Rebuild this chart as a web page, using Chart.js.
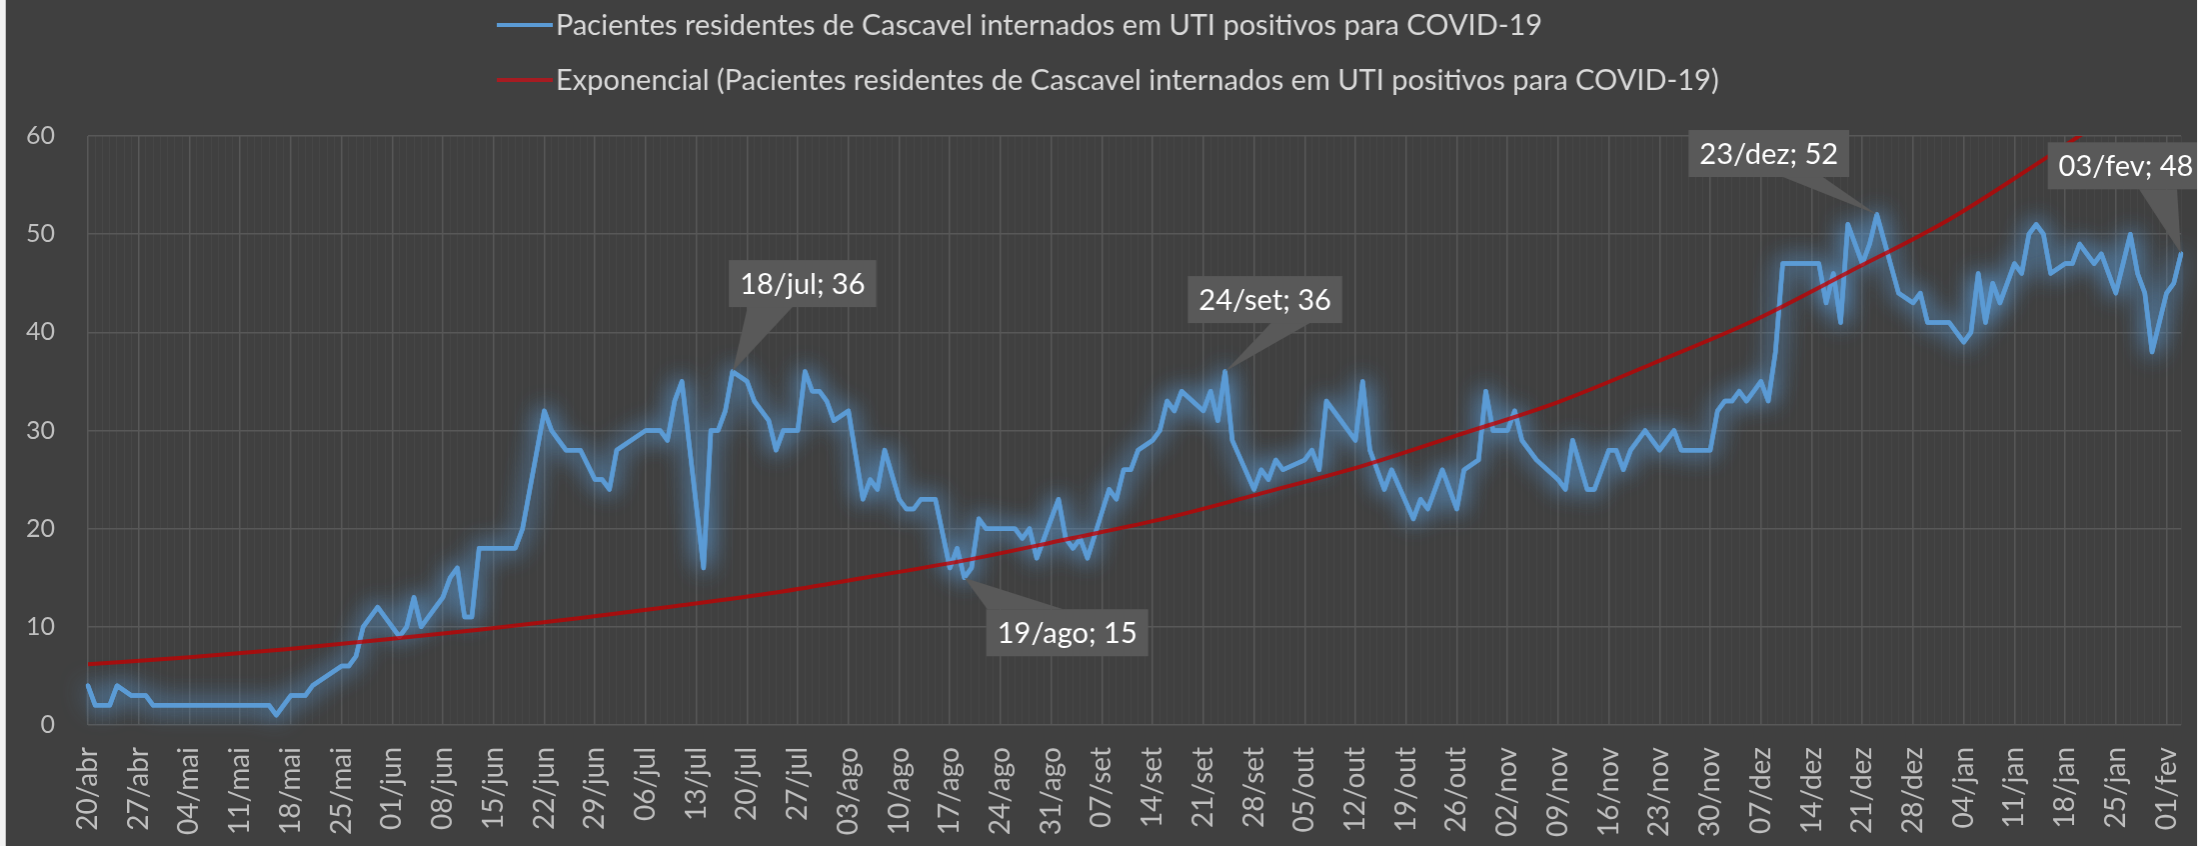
<!DOCTYPE html>
<html>
<head>
    <title>Pacientes UTI COVID-19 Cascavel</title>
    <script src="https://cdn.jsdelivr.net/npm/chart.js"></script>
    <style>
        html, body {
            margin: 0;
            padding: 0;
            background: #f2f2f2;
        }
        .wrap {
            width: 2198px;
            height: 846px;
            padding-left: 5px;
            box-sizing: border-box;
            overflow: hidden;
        }
        #uti {
            display: block;
            background: #404040;
            border-left: 1px solid #c4c4c4;
        }
    </style>
</head>
<body>
<div class="wrap">
    <canvas id="uti" width="2192" height="846"></canvas>
</div>

<script>
// rótulos semanais do eixo X (um a cada 7 dias, a partir de 20/abr)
const weekLabels = [
    '20/abr', '27/abr', '04/mai', '11/mai', '18/mai', '25/mai', '01/jun', '08/jun',
    '15/jun', '22/jun', '29/jun', '06/jul', '13/jul', '20/jul', '27/jul', '03/ago',
    '10/ago', '17/ago', '24/ago', '31/ago', '07/set', '14/set', '21/set', '28/set',
    '05/out', '12/out', '19/out', '26/out', '02/nov', '09/nov', '16/nov', '23/nov',
    '30/nov', '07/dez', '14/dez', '21/dez', '28/dez', '04/jan', '11/jan', '18/jan',
    '25/jan', '01/fev'
];

// pacientes internados em UTI por dia (20/abr .. 03/fev), null = sem registro
const pacientes = [
    4, 2, 2, 2, 4, null, 3,
    3, 3, 2, 2, 2, 2, 2,
    2, 2, 2, 2, 2, 2, 2,
    2, 2, 2, 2, 2, 1, 2,
    3, 3, 3, 4, null, 5, null,
    6, 6, 7, 10, 11, 12, 11,
    10, 9, 10, 13, 10, 11, 12,
    13, 15, 16, 11, 11, 18, 18,
    18, 18, 18, 18, 20, 24, 28,
    32, 30, 29, 28, 28, 28, null,
    25, 25, 24, 28, null, null, null,
    30, 30, 30, 29, 33, 35, null,
    null, 16, 30, 30, 32, 36, null,
    35, 33, 32, 31, 28, 30, 30,
    30, 36, 34, 34, 33, 31, null,
    32, null, 23, 25, 24, 28, null,
    23, 22, 22, 23, 23, 23, null,
    16, 18, 15, 16, 21, 20, 20,
    20, 20, 20, 19, 20, 17, 19,
    21, 23, 19, 18, 19, 17, null,
    null, 24, 23, 26, 26, 28, null,
    29, 30, 33, 32, 34, null, null,
    32, 34, 31, 36, 29, null, null,
    24, 26, 25, 27, 26, null, null,
    27, 28, 26, 33, 32, 31, 30,
    29, 35, 28, 26, 24, 26, null,
    null, 21, 23, 22, 24, 26, 24,
    22, 26, null, 27, 34, 30, 30,
    30, 32, 29, 28, 27, null, null,
    25, 24, 29, null, 24, 24, 26,
    28, 28, 26, 28, 29, 30, 29,
    28, 29, 30, 28, 28, 28, 28,
    28, 32, 33, 33, 34, 33, 34,
    35, 33, 38, 47, 47, 47, 47,
    47, 47, 43, 46, 41, 51, 49,
    47, 49, 52, null, null, 44, null,
    43, 44, 41, 41, 41, 41, 40,
    39, 40, 46, 41, 45, 43, 45,
    47, 46, 50, 51, 50, 46, null,
    47, 47, 49, 48, 47, 48, 46,
    44, 47, 50, 46, 44, 38, null,
    44, 45, 48
];

const trendDays = [0, 14, 27, 41, 54, 68, 81, 95, 108, 122, 135, 149, 162, 176, 189, 203, 216, 230, 243, 257, 270, 284];
const trendValues = [6.2, 6.9, 7.7, 8.7, 9.7, 10.9, 12.1, 13.5, 15.1, 16.9, 18.9, 21.1, 23.6, 26.4, 29.5, 32.9, 36.8, 41.2, 46.1, 51.5, 57.6, 64.4];

// rótulos de dados destacados
const calloutDays = [89, 121, 157, 247, 289];
const calloutTexts = ['18/jul; 36', '19/ago; 15', '24/set; 36', '23/dez; 52', '03/fev; 48'];

const serieNome = 'Pacientes residentes de Cascavel internados em UTI positivos para COVID-19';
const FONT = 'Lato, "Open Sans", sans-serif';

// categorias = dias desde 20/abr
const days = pacientes.map((v, i) => i);
const trendData = days.map(() => null);
trendDays.forEach((d, i) => { trendData[d] = trendValues[i]; });

// posição das caixas em relação ao ponto: centro (dx, dy), lado da seta e base da seta
const calloutStyle = [
    { dx: 70, dy: -88, side: 'bottom', base: [-55, -10] },
    { dx: 103, dy: 55, side: 'top', base: [-80, -4] },
    { dx: 40, dy: -72, side: 'bottom', base: [6, 45] },
    { dx: -108, dy: -61, side: 'bottom', base: [14, 54] },
    { dx: -55, dy: -88, side: 'bottom', base: [13, 51] }
];

// brilho azul atrás da série principal (duas passadas para reforçar o halo)
const glowPlugin = {
    id: 'glow',
    beforeDatasetDraw(chart, args) {
        if (args.index !== 0) return;
        const ctx = chart.ctx;
        ctx.save();
        ctx.shadowColor = 'rgba(91, 155, 213, 1)';
        ctx.shadowBlur = 24;
    },
    afterDatasetDraw(chart, args) {
        if (args.index !== 0) return;
        args.meta.controller.draw();
        chart.ctx.restore();
    }
};

// caixas de rótulo com seta
const calloutPlugin = {
    id: 'callouts',
    afterDatasetsDraw(chart) {
        const ctx = chart.ctx;
        const xs = chart.scales.x, ys = chart.scales.y;
        ctx.save();
        ctx.font = '29px ' + FONT;
        calloutDays.forEach((d, i) => {
            const st = calloutStyle[i];
            const px = xs.getPixelForValue(d);
            const py = ys.getPixelForValue(pacientes[d]);
            const cx = px + st.dx, cy = py + st.dy;
            const w = ctx.measureText(calloutTexts[i]).width + 22;
            const h = 47;
            const edge = st.side === 'bottom' ? cy + h / 2 : cy - h / 2;
            ctx.fillStyle = '#595959';
            ctx.beginPath();
            ctx.moveTo(cx + st.base[0], edge);
            ctx.lineTo(px, py);
            ctx.lineTo(cx + st.base[1], edge);
            ctx.closePath();
            ctx.fill();
            ctx.fillRect(cx - w / 2, cy - h / 2, w, h);
            ctx.fillStyle = '#ffffff';
            ctx.textAlign = 'center';
            ctx.textBaseline = 'middle';
            ctx.fillText(calloutTexts[i], cx, cy + 1);
        });
        ctx.restore();
    }
};

// legenda em duas linhas alinhadas à esquerda
const legendPlugin = {
    id: 'legendaTopo',
    afterDraw(chart) {
        const ctx = chart.ctx;
        const items = [
            { text: serieNome, color: '#5b9bd5', y: 25 },
            { text: 'Exponencial (' + serieNome + ')', color: '#a61c22', y: 80 }
        ];
        ctx.save();
        ctx.font = '29px ' + FONT;
        ctx.textBaseline = 'middle';
        items.forEach(it => {
            ctx.strokeStyle = it.color;
            ctx.lineWidth = 4;
            ctx.beginPath();
            ctx.moveTo(491, it.y);
            ctx.lineTo(547, it.y);
            ctx.stroke();
            ctx.fillStyle = '#d9d9d9';
            ctx.fillText(it.text, 550, it.y + 1);
        });
        ctx.restore();
    }
};

function draw() {
    new Chart(document.getElementById('uti').getContext('2d'), {
        type: 'line',
        data: {
            labels: days,
            datasets: [{
                label: serieNome,
                data: pacientes,
                borderColor: '#5b9bd5',
                borderWidth: 4.5,
                borderJoinStyle: 'round',
                borderCapStyle: 'round',
                pointRadius: 0,
                tension: 0,
                spanGaps: true,
                order: 2
            }, {
                label: 'Exponencial (' + serieNome + ')',
                data: trendData,
                borderColor: 'rgba(192, 0, 0, 0.78)',
                borderWidth: 4,
                pointRadius: 0,
                cubicInterpolationMode: 'monotone',
                spanGaps: true,
                clip: 0,
                order: 1
            }]
        },
        options: {
            responsive: false,
            animation: false,
            devicePixelRatio: 1,
            layout: { padding: { left: 0, right: 16, top: 136, bottom: 0 } },
            plugins: {
                legend: { display: false },
                tooltip: { enabled: false }
            },
            scales: {
                x: {
                    type: 'category',
                    afterFit: (s) => {
                        s.height = 121;
                        s.paddingLeft = 0;
                        s.paddingRight = 0;
                    },
                    border: { display: false },
                    grid: {
                        drawTicks: false,
                        color: (c) => c.index % 7 === 0 ? '#585858' : '#474747',
                        lineWidth: (c) => c.index % 7 === 0 ? 1.5 : 1
                    },
                    ticks: {
                        autoSkip: false,
                        maxRotation: 90,
                        minRotation: 90,
                        padding: 22,
                        color: '#bfbfbf',
                        font: { family: FONT, size: 28 },
                        callback: (v, i) => i % 7 === 0 ? weekLabels[i / 7] : ''
                    }
                },
                y: {
                    min: 0,
                    max: 60,
                    afterFit: (s) => {
                        s.width = 82;
                        s.paddingTop = 0;
                        s.paddingBottom = 0;
                    },
                    border: { display: false },
                    grid: { drawTicks: false, color: '#585858', lineWidth: 1.5 },
                    ticks: {
                        stepSize: 10,
                        padding: 33,
                        color: '#bfbfbf',
                        font: { family: FONT, size: 25 }
                    }
                }
            }
        },
        plugins: [glowPlugin, calloutPlugin, legendPlugin]
    });
}

if (document.fonts && document.fonts.load) {
    Promise.all([document.fonts.load('27px Lato'), document.fonts.load('29px Lato')])
        .then(draw, draw);
} else {
    draw();
}
</script>
</body>
</html>
